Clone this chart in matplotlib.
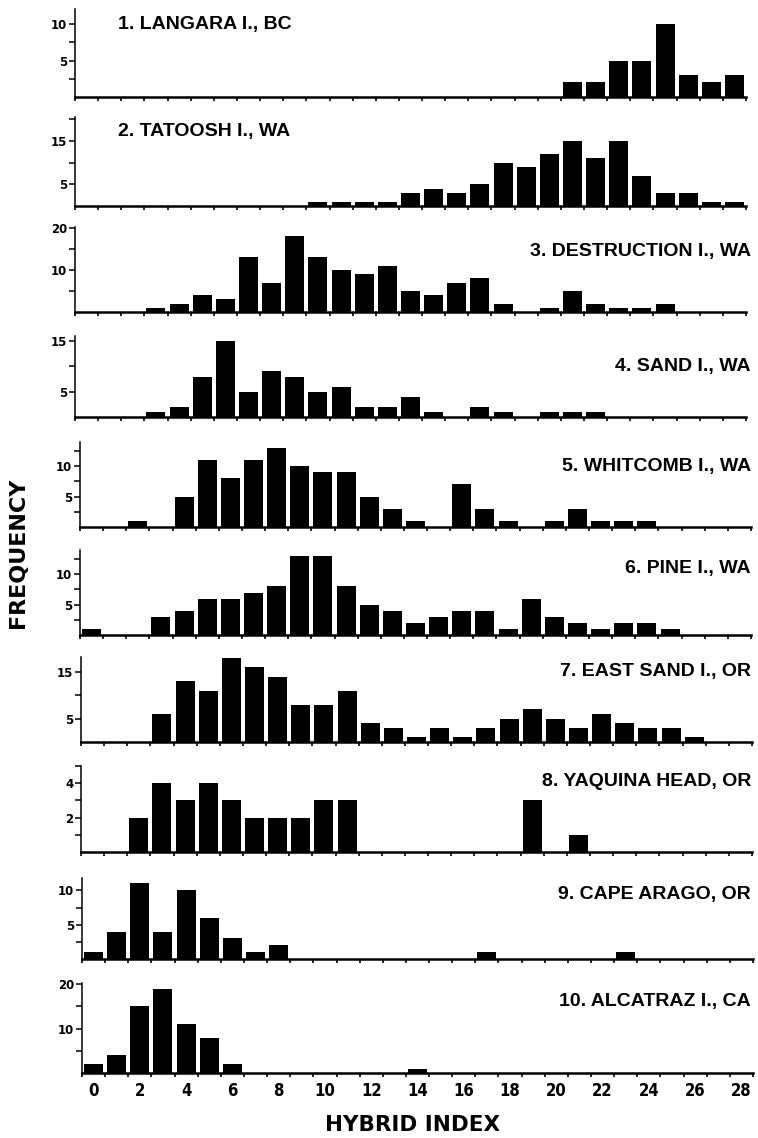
import matplotlib
matplotlib.use("Agg")
import matplotlib.pyplot as plt

W, H = 758, 1138

hybrid_index = list(range(29))

site_names = [
    "1. LANGARA I., BC",
    "2. TATOOSH I., WA",
    "3. DESTRUCTION I., WA",
    "4. SAND I., WA",
    "5. WHITCOMB I., WA",
    "6. PINE I., WA",
    "7. EAST SAND I., OR",
    "8. YAQUINA HEAD, OR",
    "9. CAPE ARAGO, OR",
    "10. ALCATRAZ I., CA",
]

#                 0  1  2  3  4  5  6  7  8  9 10 11 12 13 14 15 16 17 18 19 20 21 22 23 24 25 26 27 28
langara      = [0, 0, 0, 0, 0, 0, 0, 0, 0, 0, 0, 0, 0, 0, 0, 0, 0, 0, 0, 0, 0, 2, 2, 5, 5, 10, 3, 2, 3]
tatoosh      = [0, 0, 0, 0, 0, 0, 0, 0, 0, 0, 1, 1, 1, 1, 3, 4, 3, 5, 10, 9, 12, 15, 11, 15, 7, 3, 3, 1, 1]
destruction  = [0, 0, 0, 1, 2, 4, 3, 13, 7, 18, 13, 10, 9, 11, 5, 4, 7, 8, 2, 0, 1, 5, 2, 1, 1, 2, 0, 0, 0]
sand         = [0, 0, 0, 1, 2, 8, 15, 5, 9, 8, 5, 6, 2, 2, 4, 1, 0, 2, 1, 0, 1, 1, 1, 0, 0, 0, 0, 0, 0]
whitcomb     = [0, 0, 1, 0, 5, 11, 8, 11, 13, 10, 9, 9, 5, 3, 1, 0, 7, 3, 1, 0, 1, 3, 1, 1, 1, 0, 0, 0, 0]
pine         = [1, 0, 0, 3, 4, 6, 6, 7, 8, 13, 13, 8, 5, 4, 2, 3, 4, 4, 1, 6, 3, 2, 1, 2, 2, 1, 0, 0, 0]
east_sand    = [0, 0, 0, 6, 13, 11, 18, 16, 14, 8, 8, 11, 4, 3, 1, 3, 1, 3, 5, 7, 5, 3, 6, 4, 3, 3, 1, 0, 0]
yaquina      = [0, 0, 2, 4, 3, 4, 3, 2, 2, 2, 3, 3, 0, 0, 0, 0, 0, 0, 0, 3, 0, 1, 0, 0, 0, 0, 0, 0, 0]
cape_arago   = [1, 4, 11, 4, 10, 6, 3, 1, 2, 0, 0, 0, 0, 0, 0, 0, 0, 1, 0, 0, 0, 0, 0, 1, 0, 0, 0, 0, 0]
alcatraz     = [2, 4, 15, 19, 11, 8, 2, 0, 0, 0, 0, 0, 0, 0, 1, 0, 0, 0, 0, 0, 0, 0, 0, 0, 0, 0, 0, 0, 0]

series = [langara, tatoosh, destruction, sand, whitcomb, pine, east_sand,
          yaquina, cape_arago, alcatraz]

y_ticks = [
    [2.5, 5, 7.5, 10],
    [5, 10, 15, 20],
    [5, 10, 15, 20],
    [5, 10, 15],
    [2.5, 5, 7.5, 10, 12.5],
    [2.5, 5, 7.5, 10, 12.5],
    [5, 10, 15],
    [1, 2, 3, 4, 5],
    [2.5, 5, 7.5, 10],
    [5, 10, 15, 20],
]
y_labelled = [
    [5, 10], [5, 15], [10, 20], [5, 15], [5, 10],
    [5, 10], [5, 15], [2, 4], [5, 10], [10, 20],
]
y_max = [12.1, 20.5, 20.2, 16.0, 14.0, 14.0, 18.2, 4.95, 11.8, 20.3]

x_tick_labels = list(range(0, 29, 2))

# layout (pixels): left spine x, baseline y, spine top y
panel_left = [75, 75, 75, 75, 80, 80, 81, 81, 82, 82]
panel_base = [97, 206, 312, 417, 527, 635, 742, 852, 959, 1073]
panel_top = [9, 117, 227, 336, 442, 550, 657, 766, 878, 983]
label_y = [24.5, 131.5, 251.5, 366.7, 466.7, 568.8, 671.3, 782, 894.5, 1001.7]
AX_W = 671

fig = plt.figure(figsize=(W / 100, H / 100), dpi=100)
fig.patch.set_facecolor("white")

BOLD = dict(family=["DejaVu Sans"], weight="bold")
TITLE = dict(family=["Liberation Sans", "DejaVu Sans"], weight="bold")
NARROW = dict(family=["DejaVu Sans"], weight="bold", stretch="condensed")

for i, vals in enumerate(series):
    L, B, T = panel_left[i], panel_base[i], panel_top[i]
    ax = fig.add_axes([L / W, 1 - B / H, AX_W / W, (B - T) / H])
    ax.bar(hybrid_index, vals, width=0.82, color="black", edgecolor="none")
    ax.set_xlim(-0.5, 28.5)
    ax.set_ylim(0, y_max[i])
    for s in ("top", "right"):
        ax.spines[s].set_visible(False)
    ax.spines["left"].set_linewidth(1.1)
    ax.spines["bottom"].set_linewidth(1.8)
    ax.set_xticks([k - 0.5 for k in range(30)])
    ax.set_xticklabels([])
    ax.tick_params(axis="x", direction="out", length=3, width=1.2, pad=2)
    ax.set_yticks(y_ticks[i])
    ax.set_yticklabels([
        (str(int(t)) if t in y_labelled[i] else "") for t in y_ticks[i]
    ])
    ax.tick_params(axis="y", direction="out", length=4, width=1.1, pad=1.5)
    for lab in ax.get_yticklabels():
        lab.set_fontfamily("DejaVu Sans")
        lab.set_fontweight("bold")
        lab.set_fontsize(8.5)
    ax.set_facecolor("none")

    name = site_names[i]
    if i < 2:
        fig.text(118 / W, 1 - label_y[i] / H, name, ha="left", va="center",
                 fontsize=14, **TITLE)
    else:
        fig.text(751 / W, 1 - label_y[i] / H, name, ha="right", va="center",
                 fontsize=14, **TITLE)

    if i == len(series) - 1:
        for v in x_tick_labels:
            ax.text(v, -0.2, str(v), transform=ax.get_xaxis_transform(),
                    ha="center", va="center", fontsize=12, **NARROW)

fig.text(413 / W, 1 - 1125 / H, "HYBRID INDEX", ha="center", va="center",
         fontsize=15.5, **BOLD)
fig.text(18 / W, 1 - 553 / H, "FREQUENCY", ha="center", va="center",
         rotation=90, fontsize=16, **BOLD)

fig.savefig("out.png", dpi=100, facecolor="white")
